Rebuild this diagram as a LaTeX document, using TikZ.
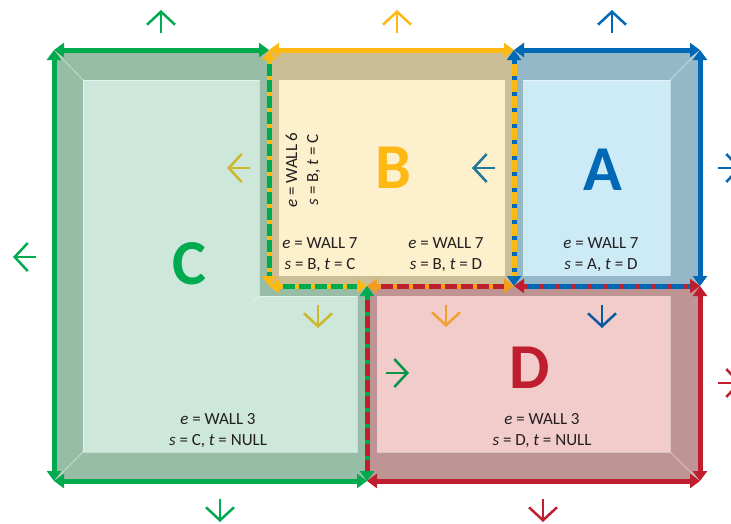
\documentclass[tikz,border=0pt]{standalone}
\usepackage{fontspec}
\setmainfont{Carlito}
\usetikzlibrary{arrows.meta}
\definecolor{cgreen}{HTML}{00AA4F}
\definecolor{cyellow}{HTML}{FDB913}
\definecolor{cblue}{HTML}{0068B5}
\definecolor{cred}{HTML}{BE1E2D}
\definecolor{corange}{HTML}{F39C1F}
\definecolor{cband}{HTML}{97BDA6}
\definecolor{cin}{HTML}{CDE8DA}
\definecolor{bband}{HTML}{CBBD96}
\definecolor{bin}{HTML}{FDF0CC}
\definecolor{aband}{HTML}{95B8C8}
\definecolor{ain}{HTML}{CCEBF7}
\definecolor{dband}{HTML}{BE9494}
\definecolor{din}{HTML}{F2CBCB}
\definecolor{ctext}{HTML}{231F20}
\definecolor{colive}{HTML}{CDB82D}
\definecolor{cteal}{HTML}{1E7896}
\definecolor{corg2}{HTML}{F0A030}
\definecolor{cdblue}{HTML}{0A5AA0}
\definecolor{cdgreen}{HTML}{0A9646}
\newcommand\sharedwall[4]{%
  \draw[wallline, #1, {Triangle[length=10pt,width=14pt,color=#2]}-{Triangle[length=10pt,width=14pt,color=#2]}] (#3) -- (#4);
  \draw[wallline, #2, dash pattern=on 4pt off 12pt, shorten <=10pt, shorten >=10pt] (#3) -- (#4);}
\begin{document}
\begin{tikzpicture}[x=1pt,y=-1pt,
  wallline/.style={line width=5pt},
  wall/.style={wallline, {Triangle[length=10pt,width=14pt]}-{Triangle[length=10pt,width=14pt]}},
  bevel/.style={white, opacity=0.45, line width=0.8pt},
  nrm/.style={line width=2.5pt, -{Straight Barb[length=13pt,width=28pt]}},
  lbl/.style={font=\fontsize{17}{21}\selectfont, text=ctext, align=center, inner sep=0pt},
  big/.style={font=\fontsize{64}{64}\selectfont\bfseries, inner sep=0pt, anchor=base}]
\useasboundingbox (0,0) rectangle (731,523);
\clip (0,0) rectangle (731,523);
% corners
\coordinate (TL) at (54,50);
\coordinate (TM1) at (269,50);
\coordinate (TM2) at (514,50);
\coordinate (TR) at (700,50);
\coordinate (ML1) at (269,286);
\coordinate (MM) at (367,286);
\coordinate (ML2) at (514,286);
\coordinate (MR) at (700,286);
\coordinate (BL) at (54,481);
\coordinate (BM) at (367,481);
\coordinate (BR) at (700,481);
% fills
\fill[cband] (54,50) -- (269,50) -- (269,286) -- (367,286) -- (367,481) -- (54,481) -- cycle;
\fill[cin] (83,80) -- (259,80) -- (259,296) -- (357,296) -- (357,452) -- (83,452) -- cycle;
\fill[bband] (269,50) rectangle (514,286);
\fill[bin] (279,80) rectangle (505,276);
\fill[aband] (514,50) rectangle (700,286);
\fill[ain] (523,80) rectangle (670,276);
\fill[dband] (367,286) rectangle (700,481);
\fill[din] (377,296) rectangle (670,452);
% bevels
\draw[bevel] (83,80) -- (259,80) -- (259,296) -- (357,296) -- (357,452) -- (83,452) -- cycle;
\draw[bevel] (523,80) -- (670,80) -- (670,276);
\draw[bevel] (377,452) -- (670,452) -- (670,296);
\draw[bevel] (54,50) -- (83,80);
\draw[bevel] (54,481) -- (83,452);
\draw[bevel] (700,50) -- (670,80);
\draw[bevel] (700,481) -- (670,452);
\draw[bevel] (259,296) -- (252,303);
% solid walls
\draw[wall, cgreen] (TL) -- (TM1);
\draw[wall, cgreen] (TL) -- (BL);
\draw[wall, cgreen] (BL) -- (BM);
\draw[wall, cyellow] (TM1) -- (TM2);
\draw[wall, cblue] (TM2) -- (TR);
\draw[wall, cblue] (TR) -- (MR);
\draw[wall, cred] (MR) -- (BR);
\draw[wall, cred] (BM) -- (BR);
% shared walls
\sharedwall{cgreen}{cyellow}{TM1}{ML1}
\sharedwall{cgreen}{cyellow}{ML1}{MM}
\sharedwall{cred}{corange}{MM}{ML2}
\sharedwall{cyellow}{cblue}{TM2}{ML2}
\sharedwall{cblue}{cred}{ML2}{MR}
\sharedwall{cred}{cgreen}{MM}{BM}
% normal arrows
\draw[nrm, cgreen] (161,33) -- (161,10);
\draw[nrm, cyellow] (397,33) -- (397,10);
\draw[nrm, cblue] (612,33) -- (612,10);
\draw[nrm, cblue] (718,168) -- (741,168);
\draw[nrm, cred] (718,383) -- (741,383);
\draw[nrm, cgreen] (36,257) -- (13,257);
\draw[nrm, cgreen] (220,499) -- (220,522);
\draw[nrm, cred] (543,499) -- (543,522);
\draw[nrm, colive] (250,168) -- (227,168);
\draw[nrm, cteal] (495,168) -- (472,168);
\draw[nrm, colive] (318,305) -- (318,328);
\draw[nrm, corg2] (446,305) -- (446,327);
\draw[nrm, cdblue] (602,305) -- (602,328);
\draw[nrm, cdgreen] (386,373) -- (409,373);
% letters
\node[big, text=cyellow] (lB) at (393,188) {B};
\node[big, text=cblue] (lA) at (603,190) {A};
\node[big, text=cgreen] (lC) at (189,284) {C};
\node[big, text=cred] (lD) at (530,388) {D};
% labels
\node[lbl] (l1) at (320,255) {\textit{e} = WALL 7\\\textit{s} = B, \textit{t} = C};
\node[lbl] (l2) at (446,255) {\textit{e} = WALL 7\\\textit{s} = B, \textit{t} = D};
\node[lbl] (l3) at (601,255) {\textit{e} = WALL 7\\\textit{s} = A, \textit{t} = D};
\node[lbl] (l4) at (218,431) {\textit{e} = WALL 3\\\textit{s} = C, \textit{t} = NULL};
\node[lbl] (l5) at (542,431) {\textit{e} = WALL 3\\\textit{s} = D, \textit{t} = NULL};
\node[lbl, rotate=90] (l6) at (303,170) {\textit{e} = WALL 6\\\textit{s} = B, \textit{t} = C};
\end{tikzpicture}
\end{document}
